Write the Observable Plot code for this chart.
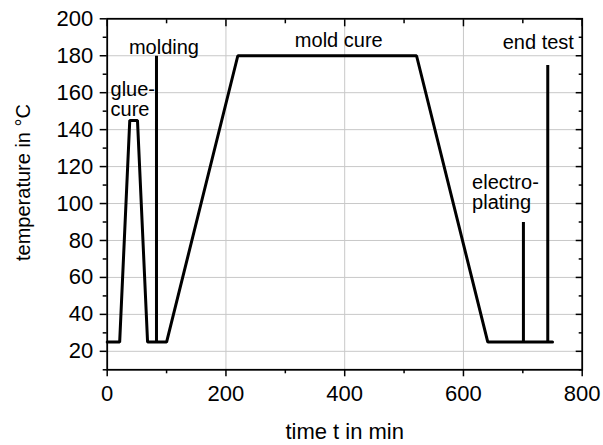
<!DOCTYPE html>
<html><head><meta charset="utf-8">
<script src="https://cdn.jsdelivr.net/npm/d3@7"></script>
<script src="https://cdn.jsdelivr.net/npm/@observablehq/plot@0.6"></script>
<style>html,body{margin:0;padding:0;background:#fff;overflow:hidden} svg{display:block}</style>
</head><body><div id="chart"></div>
<script>
// temperature profile (time in min, temperature in °C)
const timeMin = [0, 21, 38, 51, 68, 83, 83, 83, 100, 220, 521, 641, 701, 701, 701, 742, 742, 742, 750];
const tempC   = [25, 25, 145, 145, 25, 25, 180, 25, 25, 180, 180, 25, 25, 90, 25, 25, 175, 25, 25];

const xMajorTicks = [0, 200, 400, 600, 800];
const xMinorTicks = [100, 300, 500, 700];
const yMajorTicks = [20, 40, 60, 80, 100, 120, 140, 160, 180, 200];
const yMinorTicks = [10, 30, 50, 70, 90, 110, 130, 150, 170, 190];

const xTitle = "time t in min";
const yTitle = "temperature in °C";

const noteText   = ["glue-\ncure", "molding", "mold cure", "electro-\nplating", "end test"];
const noteTime   = [5.6, 95.6, 390, 614.6, 786];
const noteTemp   = [147.6, 181, 184.7, 97.1, 183.8];
const noteAnchor = ["start", "middle", "middle", "start", "end"];

const profile = timeMin.map((t, i) => ({t, c: tempC[i]}));
const notes = noteText.map((s, i) => ({s, t: noteTime[i], c: noteTemp[i], a: noteAnchor[i]}));

const font = "'Liberation Sans', Arial, sans-serif";
const tickFont = 22;
const W = 603, H = 445, mT = 18.3, mL = 106.7, mR = 21.3, mB = 75.7;
const major = 7, minor = 4;
const tickStyle = {stroke: "#000", strokeWidth: 1.5};

const chart = Plot.plot({
  width: W, height: H, marginTop: mT, marginLeft: mL, marginRight: mR, marginBottom: mB,
  style: {fontFamily: font, background: "#fff", color: "#000"},
  x: {domain: [0, 800]},
  y: {domain: [10, 200]},
  marks: [
    Plot.gridX(xMajorTicks.slice(1, -1), {stroke: "#c8c8c8", strokeOpacity: 1, strokeWidth: 1}),
    Plot.gridY(yMajorTicks.slice(0, -1), {stroke: "#c8c8c8", strokeOpacity: 1, strokeWidth: 1}),
    // bottom axis (outward ticks)
    Plot.axisX(xMajorTicks, {anchor: "bottom", tickSize: major, tickPadding: 9, fontSize: tickFont, ...tickStyle,
      label: xTitle, labelAnchor: "center", labelArrow: "none", labelOffset: 68.7}),
    Plot.axisX(xMinorTicks, {anchor: "bottom", tickSize: minor, text: null, label: null, ...tickStyle}),
    // top axis (inward ticks)
    Plot.axisX(xMajorTicks, {anchor: "top", tickSize: major, dy: major, text: null, label: null, ...tickStyle}),
    Plot.axisX(xMinorTicks, {anchor: "top", tickSize: minor, dy: minor, text: null, label: null, ...tickStyle}),
    // left axis (outward ticks)
    Plot.axisY(yMajorTicks, {anchor: "left", tickSize: major, tickPadding: 7, fontSize: tickFont, label: null, ...tickStyle}),
    Plot.axisY(yMinorTicks, {anchor: "left", tickSize: minor, text: null, label: null, ...tickStyle}),
    // right axis (inward ticks)
    Plot.axisY(yMajorTicks, {anchor: "right", tickSize: major, dx: -major, text: null, label: null, ...tickStyle}),
    Plot.axisY(yMinorTicks, {anchor: "right", tickSize: minor, dx: -minor, text: null, label: null, ...tickStyle}),
    Plot.text([yTitle], {text: d => d, frameAnchor: "left", rotate: -90, dx: -77.2, dy: -11.8,
      lineAnchor: "bottom", textAnchor: "middle", fontSize: 20, fill: "#000"}),
    Plot.frame({stroke: "#000", strokeWidth: 1.8}),
    Plot.line(profile, {x: "t", y: "c", stroke: "#000", strokeWidth: 3, strokeLinejoin: "miter"}),
    ...["start", "middle", "end"].map(a =>
      Plot.text(notes.filter(d => d.a === a), {x: "t", y: "c", text: "s", textAnchor: a,
        lineAnchor: "bottom", lineHeight: 1, fontSize: 20, fill: "#000"}))
  ]
});
document.getElementById("chart").appendChild(chart);
</script>
</body></html>
